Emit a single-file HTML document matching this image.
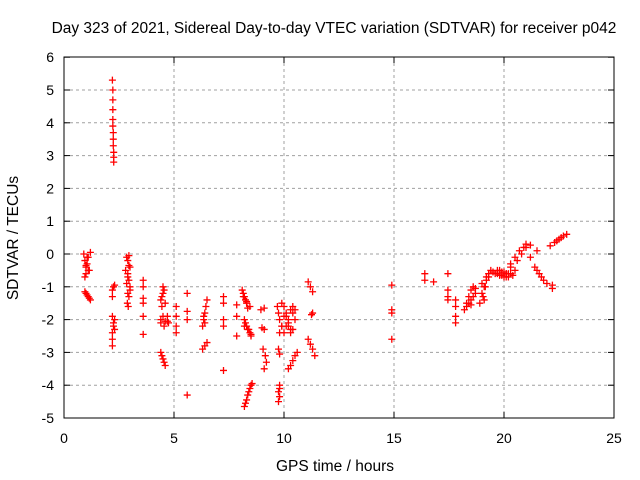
<!DOCTYPE html>
<html><head><meta charset="utf-8"><style>
body{margin:0;background:#fff}
svg{display:block;font-family:"Liberation Sans",sans-serif}
</style></head><body>
<svg id="chart" width="640" height="480">
<rect width="640" height="480" fill="#fff"/>
<text x="334" y="33" font-size="15.5" text-anchor="middle">Day 323 of 2021, Sidereal Day-to-day VTEC variation (SDTVAR) for receiver p042</text>
<text x="335" y="471" font-size="15.5" text-anchor="middle">GPS time / hours</text>
<text transform="translate(18,238) rotate(-90)" font-size="15.5" text-anchor="middle">SDTVAR / TECUs</text>
<g id="grid"></g><g id="ticks"></g><g id="pts"></g>
<rect x="64" y="57" width="550" height="361" fill="none" stroke="#000"/>
</svg>
<script>
const xTicks=[0,5,10,15,20,25];
const yTicks=[6,5,4,3,2,1,0,-1,-2,-3,-4,-5];
const hours=[0.9,0.95,1.0,1.0,1.05,1.1,1.15,1.2,0.95,1.05,0.95,1.0,1.05,1.1,1.15,1.2,
2.2,2.22,2.22,2.22,2.22,2.22,2.24,2.24,2.24,2.26,2.26,2.26,
2.2,2.25,2.3,2.2,2.2,2.25,2.3,2.2,2.25,2.2,2.2,2.3,
2.85,2.9,2.95,2.8,2.9,2.95,2.85,3.0,2.9,2.95,3.0,2.95,2.88,2.92,
3.6,3.6,3.6,3.6,3.6,3.6,
4.4,4.45,4.5,4.55,4.45,4.4,4.5,4.55,4.6,4.4,4.4,4.45,4.5,4.55,4.6,4.7,4.75,4.7,
5.1,5.1,5.1,5.1,5.6,5.6,5.6,5.6,
6.3,6.35,6.4,6.45,6.5,6.35,6.4,6.3,6.4,6.5,
7.25,7.25,7.25,7.25,7.25,7.85,7.85,7.85,
8.1,8.15,8.2,8.25,8.3,8.35,8.2,8.25,8.3,8.4,8.45,8.5,8.2,8.25,8.3,8.35,8.4,8.45,8.5,8.55,
8.95,9.1,9.0,9.1,9.05,9.15,9.2,9.1,
9.7,9.75,9.8,9.9,10.0,10.1,10.2,10.3,10.4,10.5,9.8,9.9,10.1,10.2,10.3,10.4,9.75,9.8,9.8,9.75,9.8,9.75,9.8,10.2,10.3,10.4,10.5,10.6,
11.1,11.2,11.3,11.25,11.3,11.1,11.2,11.3,11.4,
14.9,14.9,14.9,14.9,16.4,16.4,16.8,17.45,17.45,17.45,17.45,17.8,17.8,17.8,17.8,
18.2,18.3,18.4,18.5,18.6,18.7,18.3,18.5,18.9,19.0,19.1,19.2,19.3,19.4,19.0,19.2,
19.5,19.7,19.9,20.1,20.3,20.5,19.8,20.0,20.2,20.1,20.3,20.5,20.7,20.9,21.0,
21.2,21.2,21.5,21.4,21.5,21.6,21.7,21.8,21.95,22.2,22.2,22.1,22.3,22.5,22.7,22.85,
1.0,1.1,2.9,3.0,4.5,4.6,8.15,8.3,8.45,8.2,8.35,8.5,10.0,10.2,10.4,10.1,10.3,10.0,9.9,10.5,
18.4,18.6,18.7,18.5,19.05,19.15,19.3,19.1,19.6,19.8,20.0,20.2,20.4,19.7,19.9,20.1,20.3,20.6,20.8,21.0,22.4,22.6];
const values=[0,-0.2,-0.4,-0.6,-0.1,-0.5,-0.5,0.05,-0.7,-0.3,-1.15,-1.2,-1.25,-1.3,-1.35,-1.4,
5.3,5.0,4.7,4.4,4.1,3.9,3.7,3.5,3.3,3.1,2.95,2.8,
-1.1,-1.0,-0.95,-1.3,-1.9,-2.1,-2.3,-2.4,-2.2,-2.6,-2.8,-2.0,
-0.1,-0.2,-0.35,-0.5,-0.6,-0.8,-0.9,-1.0,-1.2,-1.3,-1.1,-0.05,-1.5,-1.6,
-0.8,-1.0,-1.35,-1.5,-1.9,-2.45,
-1.4,-1.3,-1.2,-1.1,-1.6,-2.0,-1.9,-2.2,-2.05,-2.1,-3.0,-3.1,-3.2,-3.3,-3.4,-1.9,-2.1,-2.05,
-1.6,-1.9,-2.2,-2.4,-1.2,-1.75,-2.0,-4.3,
-2.2,-2.0,-1.8,-1.6,-1.4,-1.9,-2.1,-2.9,-2.8,-2.7,
-1.3,-1.5,-2.0,-2.2,-3.55,-1.55,-1.9,-2.5,
-1.1,-1.2,-1.3,-1.4,-1.5,-1.65,-2.0,-2.1,-2.2,-2.3,-2.4,-2.5,-4.65,-4.55,-4.45,-4.3,-4.2,-4.1,-4.0,-3.95,
-1.7,-1.65,-2.25,-2.3,-2.9,-3.1,-3.3,-3.5,
-1.6,-1.8,-2.0,-2.2,-1.6,-1.9,-2.1,-1.7,-2.3,-2.0,-2.4,-1.5,-1.8,-2.2,-2.4,-1.6,-2.9,-3.05,-4.0,-4.2,-4.35,-4.5,-4.1,-3.5,-3.4,-3.25,-3.1,-3.0,
-0.85,-1.0,-1.15,-1.85,-1.8,-2.6,-2.75,-2.9,-3.1,
-0.95,-1.7,-1.8,-2.6,-0.6,-0.8,-0.85,-0.6,-1.1,-1.3,-1.4,-1.4,-1.6,-1.9,-2.1,
-1.7,-1.5,-1.3,-1.1,-1.0,-1.2,-1.6,-1.4,-1.5,-1.2,-1.0,-0.8,-0.6,-0.5,-0.9,-0.7,
-0.55,-0.6,-0.65,-0.7,-0.6,-0.5,-0.5,-0.7,-0.6,-0.6,-0.3,-0.1,0.1,0.2,0.3,
0.27,-0.1,0.1,-0.4,-0.5,-0.6,-0.7,-0.8,-0.9,-0.95,-1.05,0.25,0.35,0.45,0.55,0.6,
-0.35,-0.1,-0.7,-0.4,-1.0,-1.5,-1.3,-1.45,-1.6,-2.2,-2.3,-2.45,-1.9,-2.0,-1.8,-2.2,-2.3,-2.4,-2.2,-1.7,
-1.5,-1.3,-1.05,-1.55,-1.3,-1.0,-0.7,-1.4,-0.6,-0.65,-0.55,-0.7,-0.65,-0.5,-0.55,-0.6,-0.4,-0.2,0.0,0.2,0.4,0.5];
const NS='http://www.w3.org/2000/svg';
const X=h=>64+h*22, Y=v=>254-v*32.8;
function mk(t,a,p){const e=document.createElementNS(NS,t);for(const k in a)e.setAttribute(k,a[k]);p.appendChild(e);return e;}
const grid=document.getElementById('grid'),ticks=document.getElementById('ticks'),pts=document.getElementById('pts');
xTicks.forEach(t=>{const x=X(t);
 if(t>0&&t<25){const g=mk('line',{x1:x,x2:x,y1:57,y2:418,stroke:'#a0a0a0','stroke-dasharray':'3,3'},grid);
 
 }
 mk('line',{x1:x,x2:x,y1:418,y2:412,stroke:'#000'},ticks);mk('line',{x1:x,x2:x,y1:57,y2:63,stroke:'#000'},ticks);
 const l=mk('text',{x:x,y:443,'font-size':14,'text-anchor':'middle'},ticks);l.textContent=t;
 
 });
yTicks.forEach(t=>{const y=Y(t);
 if(t>-5&&t<6){const g=mk('line',{x1:64,x2:614,y1:y,y2:y,stroke:'#a0a0a0','stroke-dasharray':'3,3'},grid);
 
 }
 mk('line',{x1:64,x2:70,y1:y,y2:y,stroke:'#000'},ticks);mk('line',{x1:614,x2:608,y1:y,y2:y,stroke:'#000'},ticks);
 const l=mk('text',{x:54,y:y+5,'font-size':14,'text-anchor':'end'},ticks);l.textContent=t;
 
 });
hours.forEach((h,i)=>{const x=X(h),y=Y(values[i]);
 const p=mk('path',{d:`M${x-3.5},${y}h7M${x},${y-3.5}v7`,stroke:'#ff0000','stroke-width':1.3},pts);
 
 });
</script>
</body></html>
